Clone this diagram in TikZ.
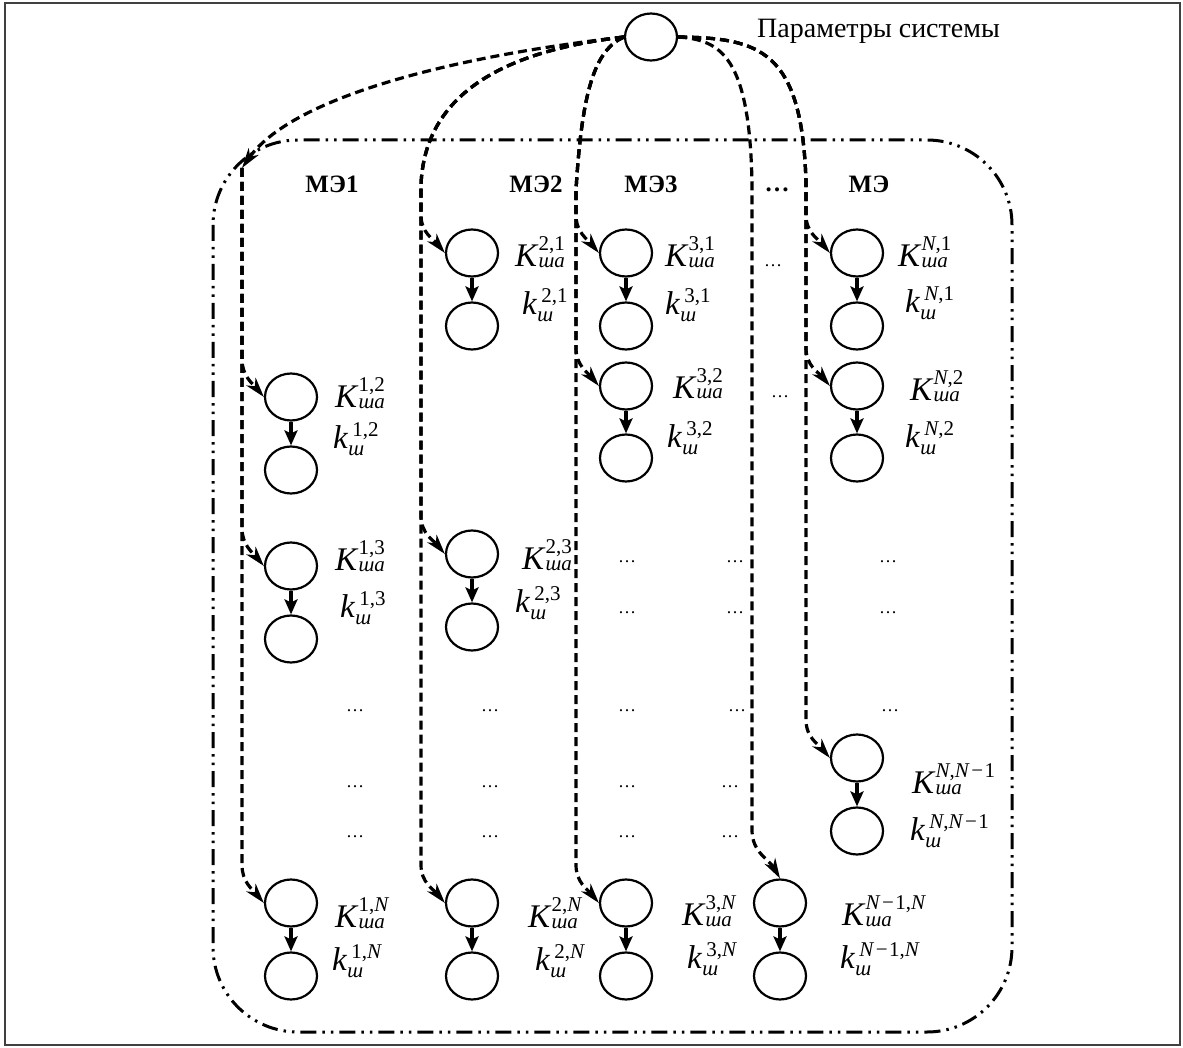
\documentclass[tikz,border=0pt]{standalone}
\usepackage{fontspec}
\setmainfont{Liberation Serif}
\usetikzlibrary{shapes.geometric,arrows.meta,calc}
\newcommand\scrsz{\fontsize{21}{21}\selectfont}
\newcommand\KK[1]{\textit{K}\rlap{\raisebox{16pt}{\scrsz #1}}\raisebox{-1pt}{\scrsz\itshape ша}}
\newcommand\kk[1]{\textit{k}\rlap{\kern4pt\raisebox{12pt}{\scrsz #1}}\raisebox{-7pt}{\scrsz\itshape ш}}
\newcommand\NN{\textit{N}}
\newcommand\mn{\kern1.5pt−\kern1.5pt}
\tikzset{
 vtx/.style={draw, ellipse, line width=2.2pt, minimum width=52pt, minimum height=47pt, inner sep=0pt},
 pairarr/.style={line width=4.5pt, -{Stealth[length=15pt,width=13pt,inset=3pt]}},
 dconn/.style={line width=3.2pt, dash pattern=on 9pt off 5pt, -{Stealth[length=20pt,width=12pt,inset=6pt]}},
 ddframe/.style={line width=3pt, dash pattern=on 16pt off 6pt on 2.5pt off 6pt on 2.5pt off 6pt, rounded corners=85pt},
 lbl/.style={anchor=base west, inner sep=0pt, font=\fontsize{33}{33}\selectfont},
 hdr/.style={anchor=base, inner sep=0pt, font=\bfseries\fontsize{25}{25}\selectfont},
 ell/.style={anchor=base, inner sep=0pt, font=\fontsize{18}{18}\selectfont},
 outer/.style={line width=1.5pt, draw=black!75},
}
\begin{document}
\begin{tikzpicture}[x=1pt,y=-1pt]
\useasboundingbox (0,0) rectangle (1183,1048);
\draw[outer] (5,3) rectangle (1180,1045);
\draw[ddframe] (213,140) rectangle (1012,1032);

% root
\node[vtx] (root) at (651,37) {};
\node[anchor=base west, inner sep=0pt, font=\fontsize{28}{28}\selectfont] (rootlbl) at (757,38) {Параметры системы};

% headers
\node[hdr] (h1) at (332,193) {МЭ1};
\node[hdr] (h2) at (536,193) {МЭ2};
\node[hdr] (h3) at (651,193) {МЭ3};
\node[hdr] (h4) at (777,192) {…};
\node[hdr] (h5) at (869,193) {МЭ};

% column 1
\node[vtx] (a12) at (291,397) {};  \node[vtx] (b12) at (291,470) {};
\node[vtx] (a13) at (291,566) {};  \node[vtx] (b13) at (291,639) {};
\node[vtx] (a1n) at (291,903) {};  \node[vtx] (b1n) at (291,976) {};
% column 2
\node[vtx] (a21) at (472,253) {};  \node[vtx] (b21) at (472,326) {};
\node[vtx] (a23) at (472,554) {};  \node[vtx] (b23) at (472,627) {};
\node[vtx] (a2n) at (472,903) {};  \node[vtx] (b2n) at (472,976) {};
% column 3
\node[vtx] (a31) at (626,253) {};  \node[vtx] (b31) at (626,326) {};
\node[vtx] (a32) at (626,386) {};  \node[vtx] (b32) at (626,458) {};
\node[vtx] (a3n) at (626,903) {};  \node[vtx] (b3n) at (626,976) {};
% column N-1
\node[vtx] (a4n) at (780,903) {};  \node[vtx] (b4n) at (780,976) {};
% column N
\node[vtx] (a51) at (857,253) {};  \node[vtx] (b51) at (857,326) {};
\node[vtx] (a52) at (857,386) {};  \node[vtx] (b52) at (857,458) {};
\node[vtx] (a5m) at (857,758) {};  \node[vtx] (b5m) at (857,831) {};

\foreach \c in {12,13,1n,21,23,2n,31,32,3n,4n,51,52,5m}
  \draw[pairarr] (a\c.south) -- (b\c.north);

% labels
\node[lbl] (K21) at (515,267) {\KK{2,1}};   \node[lbl] (k21) at (522,315) {\kk{2,1}};
\node[lbl] (K31) at (665,267) {\KK{3,1}};   \node[lbl] (k31) at (665,315) {\kk{3,1}};
\node[lbl] (K51) at (898,267) {\KK{\NN,1}}; \node[lbl] (k51) at (905,313) {\kk{\NN,1}};
\node[lbl] (K12) at (335,407) {\KK{1,2}};   \node[lbl] (k12) at (333,448) {\kk{1,2}};
\node[lbl] (K32) at (673,398) {\KK{3,2}};   \node[lbl] (k32) at (667,447) {\kk{3,2}};
\node[lbl] (K52) at (910,400) {\KK{\NN,2}}; \node[lbl] (k52) at (905,447) {\kk{\NN,2}};
\node[lbl] (K13) at (335,570) {\KK{1,3}};   \node[lbl] (k13) at (340,617) {\kk{1,3}};
\node[lbl] (K23) at (522,569) {\KK{2,3}};   \node[lbl] (k23) at (515,612) {\kk{2,3}};
\node[lbl] (K5m) at (912,793) {\KK{\NN,\NN\mn1}}; \node[lbl] (k5m) at (910,840) {\kk{\NN,\NN\mn1}};
\node[lbl] (K1n) at (335,927) {\KK{1,\NN}}; \node[lbl] (k1n) at (332,970) {\kk{1,\NN}};
\node[lbl] (K2n) at (528,927) {\KK{2,\NN}}; \node[lbl] (k2n) at (535,970) {\kk{2,\NN}};
\node[lbl] (K3n) at (682,925) {\KK{3,\NN}}; \node[lbl] (k3n) at (687,968) {\kk{3,\NN}};
\node[lbl] (K4n) at (842,925) {\KK{\NN\mn1,\NN}}; \node[lbl] (k4n) at (840,968) {\kk{\NN\mn1,\NN}};

% ellipses
\node[ell] (e1) at (773,267) {…};
\node[ell] (e2) at (780,397) {…};
\node[ell] (e3) at (627,562) {…};
\node[ell] (e4) at (735,562) {…};
\node[ell] (e5) at (888,562) {…};
\node[ell] (e6) at (627,613) {…};
\node[ell] (e7) at (735,613) {…};
\node[ell] (e8) at (888,613) {…};
\node[ell] (e9) at (355,711) {…};
\node[ell] (e10) at (490,711) {…};
\node[ell] (e11) at (627,711) {…};
\node[ell] (e12) at (737,711) {…};
\node[ell] (e13) at (890,711) {…};
\node[ell] (e14) at (355,787) {…};
\node[ell] (e15) at (490,787) {…};
\node[ell] (e16) at (627,787) {…};
\node[ell] (e17) at (730,787) {…};
\node[ell] (e18) at (355,837) {…};
\node[ell] (e19) at (490,837) {…};
\node[ell] (e20) at (627,837) {…};
\node[ell] (e21) at (730,837) {…};

% route coordinates
\coordinate (c1) at (242,168);
\coordinate (c2) at (421,185);
\coordinate (c3) at (576,190);
\coordinate (c4) at (752,185);
\coordinate (c5) at (806,182);

% column 1 connectors
\draw[dconn] (root.west) .. controls (440,58) and (290,100) .. (c1);
\foreach \t in {a12,a13,a1n}
  \draw[dconn] (c1) -- ($(c1|-\t.west)+(0,-38)$) to[out=-90,in=130] (\t.west);
% column 2 connectors
\foreach \t in {a21,a23,a2n}
  \draw[dconn] (root.west) .. controls (530,48) and (425,80) .. (c2) -- ($(c2|-\t.west)+(0,-38)$) to[out=-90,in=130] (\t.west);
% column 3 connectors
\foreach \t in {a31,a32,a3n}
  \draw[dconn] (root.west) .. controls (595,50) and (582,90) .. (c3) -- ($(c3|-\t.west)+(0,-38)$) to[out=-90,in=130] (\t.west);
% column N-1 connector
\draw[dconn] (root.east) .. controls (720,40) and (750,55) .. (c4) -- ($(c4|-a4n.north)+(0,-48)$) to[out=-90,in=120] (a4n.north);
% column N connectors
\foreach \t in {a51,a52,a5m}
  \draw[dconn] (root.east) .. controls (760,38) and (802,50) .. (c5) -- ($(c5|-\t.west)+(0,-38)$) to[out=-90,in=130] (\t.west);
\end{tikzpicture}
\end{document}
